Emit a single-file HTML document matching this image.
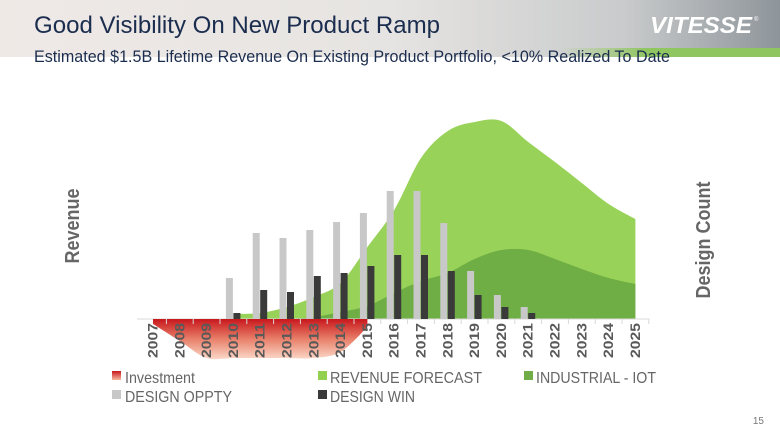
<!DOCTYPE html>
<html><head><meta charset="utf-8"><style>
html,body{margin:0;padding:0;background:#fff;}
svg{display:block;font-family:"Liberation Sans",sans-serif;}
</style></head><body>
<svg id="chart" width="780" height="439" viewBox="0 0 780 439">
<defs>
<linearGradient id="hdr" x1="0" x2="1" y1="0" y2="0">
<stop offset="0" stop-color="#efe9e6"/><stop offset="0.5" stop-color="#e6e4e2"/><stop offset="0.8" stop-color="#c9cbcc"/><stop offset="1" stop-color="#8e959a"/></linearGradient>
<linearGradient id="grn" x1="0" x2="1"><stop offset="0" stop-color="#9fcf6a" stop-opacity="0"/><stop offset="0.4" stop-color="#8fc660"/><stop offset="1" stop-color="#8fc660"/></linearGradient>
<linearGradient id="inv" x1="0" x2="0" y1="0" y2="1"><stop offset="0" stop-color="#c8171c"/><stop offset="0.5" stop-color="#e8806a"/><stop offset="1" stop-color="#fbd8c8"/></linearGradient>
<linearGradient id="invs" x1="0" x2="0" y1="0" y2="1"><stop offset="0" stop-color="#c8171c"/><stop offset="1" stop-color="#f5b8a0"/></linearGradient>
</defs>
<rect x="0" y="0" width="780" height="57" fill="url(#hdr)"/>
<rect x="560" y="48" width="220" height="9" fill="url(#grn)"/>
<text x="34" y="33" font-size="24" fill="#1b2d4e" textLength="406" lengthAdjust="spacingAndGlyphs">Good Visibility On New Product Ramp</text>
<text x="34" y="62" font-size="17" fill="#1b2d4e" textLength="636" lengthAdjust="spacingAndGlyphs">Estimated $1.5B Lifetime Revenue On Existing Product Portfolio, &lt;10% Realized To Date</text>
<text x="650" y="33" font-size="23" font-weight="bold" font-style="italic" fill="#fff" textLength="102" lengthAdjust="spacingAndGlyphs">VITESSE</text>
<text x="754" y="21" font-size="6" fill="#fff">®</text>
<g id="plot"></g>
<text transform="translate(79,226) rotate(-90)" text-anchor="middle" font-size="20" font-weight="bold" fill="#666" textLength="75" lengthAdjust="spacingAndGlyphs">Revenue</text>
<text transform="translate(710,240) rotate(-90)" text-anchor="middle" font-size="20" font-weight="bold" fill="#666" textLength="117" lengthAdjust="spacingAndGlyphs">Design Count</text>
<g>
<g><rect x="112" y="371" width="9" height="9" fill="url(#invs)"/><text x="125" y="383" font-size="16" fill="#666" textLength="70" lengthAdjust="spacingAndGlyphs">Investment</text></g>
<g><rect x="318" y="371" width="9" height="9" fill="#92d050"/><text x="330" y="383" font-size="16" fill="#666" textLength="152" lengthAdjust="spacingAndGlyphs">REVENUE FORECAST</text></g>
<g><rect x="524" y="371" width="9" height="9" fill="#70ad47"/><text x="536" y="383" font-size="16" fill="#666" textLength="120" lengthAdjust="spacingAndGlyphs">INDUSTRIAL - IOT</text></g>
<g><rect x="112" y="390" width="9" height="9" fill="#c8c8c8"/><text x="125" y="402" font-size="16" fill="#666" textLength="107" lengthAdjust="spacingAndGlyphs">DESIGN OPPTY</text></g>
<g><rect x="318" y="390" width="9" height="9" fill="#3a3a3a"/><text x="330" y="402" font-size="16" fill="#666" textLength="85" lengthAdjust="spacingAndGlyphs">DESIGN WIN</text></g>
</g>
<text x="764" y="424" text-anchor="end" font-size="10" fill="#777">15</text>
</svg>
<script>
const years = ["2007","2008","2009","2010","2011","2012","2013","2014","2015","2016","2017","2018","2019","2020","2021","2022","2023","2024","2025"];
const revenueForecast = [null,null,null,5,6,12,22,36,72,109,161,188,197,198,177,157,136,115,100];
const industrialIot = [null,null,null,null,null,0,2,7,13,26,38,46,60,69,69,60,50,41,35];
const designOppty = [0,0,0,41,86,81,89,97,106,128,128,96,48,24,12,0,0,0,0];
const designWin = [0,0,0,6,29,27,43,46,53,64,64,48,24,12,6,0,0,0,0];
const investment = [5,22,39,39,39,39,39,33,8];

const NS = "http://www.w3.org/2000/svg";
const plot = document.getElementById("plot");
const baseY = 319;
function xPos(i){ return 153 + i * 26.8; }
function yRev(v){ return baseY - v; }
function yCount(v){ return baseY - v; }
function yInv(v){ return baseY + v; }

function smoothLine(pts){
  let d = "";
  for(let k=0;k<pts.length-1;k++){
    const p0 = pts[Math.max(0,k-1)], p1 = pts[k], p2 = pts[k+1], p3 = pts[Math.min(pts.length-1,k+2)];
    const c1x = p1[0] + (p2[0]-p0[0])/6, c1y = p1[1] + (p2[1]-p0[1])/6;
    const c2x = p2[0] - (p3[0]-p1[0])/6, c2y = p2[1] - (p3[1]-p1[1])/6;
    d += " C" + c1x + "," + c1y + " " + c2x + "," + c2y + " " + p2[0] + "," + p2[1];
  }
  return d;
}
function areaPath(vals){
  let pts = [];
  vals.forEach((v,i)=>{ if(v!==null) pts.push([xPos(i), yRev(v)]); });
  let d = "M" + pts[0][0] + "," + baseY + " L" + pts[0][0] + "," + pts[0][1];
  d += smoothLine(pts);
  d += " L" + pts[pts.length-1][0] + "," + baseY + " Z";
  return d;
}

const rev = document.createElementNS(NS,"path");
rev.setAttribute("d", areaPath(revenueForecast));
rev.setAttribute("fill", "#92d050");
rev.setAttribute("opacity", "0.95");


plot.appendChild(rev);

const iot = document.createElementNS(NS,"path");
iot.setAttribute("d", areaPath(industrialIot));
iot.setAttribute("fill", "#6aa842");
iot.setAttribute("opacity", "0.9");


plot.appendChild(iot);

const ax = document.createElementNS(NS,"line");
ax.setAttribute("x1", xPos(0)-16); ax.setAttribute("x2", xPos(18)+14);
ax.setAttribute("y1", baseY); ax.setAttribute("y2", baseY);
ax.setAttribute("stroke", "#d9d9d9"); ax.setAttribute("stroke-width", "1");


plot.appendChild(ax);

let invPts = investment.map((v,i)=>[xPos(i), yInv(v)]);
let dInv = "M" + xPos(0) + "," + baseY + " L" + invPts[0][0] + "," + invPts[0][1];
dInv += smoothLine(invPts);
dInv += " L" + xPos(investment.length-1) + "," + baseY + " Z";
const inv = document.createElementNS(NS,"path");
inv.setAttribute("d", dInv);
inv.setAttribute("fill", "url(#inv)");


plot.appendChild(inv);

years.forEach((y,i)=>{
  const t = document.createElementNS(NS,"line");
  t.setAttribute("x1", xPos(i)+13.4); t.setAttribute("x2", xPos(i)+13.4);
  t.setAttribute("y1", baseY); t.setAttribute("y2", baseY+5);
  t.setAttribute("stroke", "#d9d9d9");
  
  
  plot.appendChild(t);

  if(designOppty[i] > 0){
    const b = document.createElementNS(NS,"rect");
    b.setAttribute("x", xPos(i)-7.5); b.setAttribute("width", 7);
    b.setAttribute("y", yCount(designOppty[i])); b.setAttribute("height", designOppty[i]);
    b.setAttribute("fill", "#c8c8c8");
    
    
    plot.appendChild(b);
  }
  if(designWin[i] > 0){
    const b = document.createElementNS(NS,"rect");
    b.setAttribute("x", xPos(i)); b.setAttribute("width", 7);
    b.setAttribute("y", yCount(designWin[i])); b.setAttribute("height", designWin[i]);
    b.setAttribute("fill", "#3a3a3a");
    
    
    plot.appendChild(b);
  }
  const lb = document.createElementNS(NS,"text");
  lb.setAttribute("transform", "translate(" + (xPos(i)+4.5) + "," + (baseY+4) + ") rotate(-90)");
  lb.setAttribute("text-anchor", "end");
  lb.setAttribute("font-size", "14");
  lb.setAttribute("font-weight", "bold");
  lb.setAttribute("fill", "#595959");
  lb.setAttribute("textLength", "35");
  lb.setAttribute("lengthAdjust", "spacingAndGlyphs");
  lb.textContent = y;
  
  
  plot.appendChild(lb);
});
</script>
</body></html>
